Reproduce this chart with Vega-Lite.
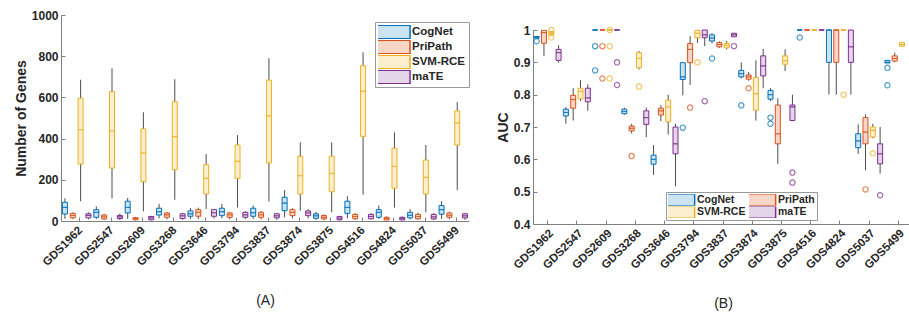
{
  "$schema": "https://vega.github.io/schema/vega-lite/v6.json",
  "background": "white",
  "padding": {"left": 14, "top": 9, "right": 0, "bottom": 0},
  "config": {
    "view": {"stroke": null},
    "font": "Liberation Sans",
    "axis": {
      "labelFont": "Liberation Sans", "labelFontWeight": "bold", "labelColor": "#262626",
      "titleFont": "Liberation Sans", "titleColor": "#262626",
      "domainColor": "#808080", "tickColor": "#808080", "grid": false,
      "tickSize": -4, "labelPadding": 7, "labelOverlap": false, "labelSeparation": 0
    },
    "legend": {
      "labelFont": "Liberation Sans", "labelFontWeight": "bold", "labelColor": "#262626",
      "labelFontSize": 10.5, "symbolStrokeWidth": 1.5, "strokeColor": "#9a9a9a", "fillColor": "white"
    }
  },
  "datasets": {
    "A": [
      {"ds": "GDS1962", "m": "CogNet", "lo": 10, "q1": 34, "med": 66, "q3": 91, "hi": 110},
      {"ds": "GDS1962", "m": "PriPath", "lo": 10, "q1": 15, "med": 27, "q3": 37, "hi": 42},
      {"ds": "GDS1962", "m": "SVM-RCE", "lo": 96, "q1": 277, "med": 443, "q3": 596, "hi": 686},
      {"ds": "GDS1962", "m": "maTE", "lo": 8, "q1": 15, "med": 27, "q3": 35, "hi": 42},
      {"ds": "GDS2547", "m": "CogNet", "lo": 10, "q1": 18, "med": 42, "q3": 55, "hi": 71},
      {"ds": "GDS2547", "m": "PriPath", "lo": 5, "q1": 10, "med": 20, "q3": 29, "hi": 35},
      {"ds": "GDS2547", "m": "SVM-RCE", "lo": 110, "q1": 257, "med": 438, "q3": 628, "hi": 741},
      {"ds": "GDS2547", "m": "maTE", "lo": 5, "q1": 12, "med": 20, "q3": 27, "hi": 36},
      {"ds": "GDS2609", "m": "CogNet", "lo": 10, "q1": 39, "med": 66, "q3": 96, "hi": 112},
      {"ds": "GDS2609", "m": "PriPath", "lo": 3, "q1": 6, "med": 12, "q3": 16, "hi": 20},
      {"ds": "GDS2609", "m": "SVM-RCE", "lo": 47, "q1": 191, "med": 330, "q3": 447, "hi": 528},
      {"ds": "GDS2609", "m": "maTE", "lo": 3, "q1": 6, "med": 15, "q3": 22, "hi": 25},
      {"ds": "GDS3268", "m": "CogNet", "lo": 13, "q1": 29, "med": 45, "q3": 62, "hi": 83},
      {"ds": "GDS3268", "m": "PriPath", "lo": 8, "q1": 18, "med": 30, "q3": 39, "hi": 44},
      {"ds": "GDS3268", "m": "SVM-RCE", "lo": 103, "q1": 249, "med": 409, "q3": 579, "hi": 688},
      {"ds": "GDS3268", "m": "maTE", "lo": 6, "q1": 12, "med": 25, "q3": 35, "hi": 40},
      {"ds": "GDS3646", "m": "CogNet", "lo": 10, "q1": 23, "med": 35, "q3": 49, "hi": 63},
      {"ds": "GDS3646", "m": "PriPath", "lo": 10, "q1": 23, "med": 42, "q3": 55, "hi": 65},
      {"ds": "GDS3646", "m": "SVM-RCE", "lo": 58, "q1": 131, "med": 207, "q3": 273, "hi": 325},
      {"ds": "GDS3646", "m": "maTE", "lo": 12, "q1": 23, "med": 40, "q3": 55, "hi": 58},
      {"ds": "GDS3794", "m": "CogNet", "lo": 13, "q1": 26, "med": 45, "q3": 62, "hi": 83},
      {"ds": "GDS3794", "m": "PriPath", "lo": 8, "q1": 18, "med": 30, "q3": 39, "hi": 45},
      {"ds": "GDS3794", "m": "SVM-RCE", "lo": 66, "q1": 207, "med": 290, "q3": 369, "hi": 417},
      {"ds": "GDS3794", "m": "maTE", "lo": 10, "q1": 18, "med": 30, "q3": 42, "hi": 48},
      {"ds": "GDS3837", "m": "CogNet", "lo": 10, "q1": 23, "med": 40, "q3": 62, "hi": 75},
      {"ds": "GDS3837", "m": "PriPath", "lo": 8, "q1": 18, "med": 30, "q3": 42, "hi": 48},
      {"ds": "GDS3837", "m": "SVM-RCE", "lo": 94, "q1": 282, "med": 511, "q3": 684, "hi": 790},
      {"ds": "GDS3837", "m": "maTE", "lo": 6, "q1": 15, "med": 25, "q3": 35, "hi": 40},
      {"ds": "GDS3874", "m": "CogNet", "lo": 18, "q1": 50, "med": 87, "q3": 115, "hi": 150},
      {"ds": "GDS3874", "m": "PriPath", "lo": 13, "q1": 26, "med": 42, "q3": 55, "hi": 62},
      {"ds": "GDS3874", "m": "SVM-RCE", "lo": 50, "q1": 131, "med": 220, "q3": 314, "hi": 382},
      {"ds": "GDS3874", "m": "maTE", "lo": 13, "q1": 26, "med": 39, "q3": 49, "hi": 58},
      {"ds": "GDS3875", "m": "CogNet", "lo": 6, "q1": 13, "med": 25, "q3": 35, "hi": 45},
      {"ds": "GDS3875", "m": "PriPath", "lo": 5, "q1": 10, "med": 18, "q3": 27, "hi": 32},
      {"ds": "GDS3875", "m": "SVM-RCE", "lo": 42, "q1": 142, "med": 231, "q3": 314, "hi": 382},
      {"ds": "GDS3875", "m": "maTE", "lo": 3, "q1": 6, "med": 14, "q3": 22, "hi": 25},
      {"ds": "GDS4516", "m": "CogNet", "lo": 13, "q1": 37, "med": 66, "q3": 96, "hi": 120},
      {"ds": "GDS4516", "m": "PriPath", "lo": 6, "q1": 11, "med": 22, "q3": 32, "hi": 38},
      {"ds": "GDS4516", "m": "SVM-RCE", "lo": 128, "q1": 411, "med": 630, "q3": 754, "hi": 819},
      {"ds": "GDS4516", "m": "maTE", "lo": 6, "q1": 11, "med": 22, "q3": 32, "hi": 38},
      {"ds": "GDS4824", "m": "CogNet", "lo": 10, "q1": 18, "med": 42, "q3": 55, "hi": 75},
      {"ds": "GDS4824", "m": "PriPath", "lo": 3, "q1": 5, "med": 12, "q3": 18, "hi": 22},
      {"ds": "GDS4824", "m": "SVM-RCE", "lo": 65, "q1": 159, "med": 265, "q3": 353, "hi": 430},
      {"ds": "GDS4824", "m": "maTE", "lo": 3, "q1": 5, "med": 12, "q3": 18, "hi": 22},
      {"ds": "GDS5037", "m": "CogNet", "lo": 8, "q1": 15, "med": 28, "q3": 42, "hi": 58},
      {"ds": "GDS5037", "m": "PriPath", "lo": 6, "q1": 11, "med": 22, "q3": 32, "hi": 40},
      {"ds": "GDS5037", "m": "SVM-RCE", "lo": 42, "q1": 131, "med": 212, "q3": 296, "hi": 369},
      {"ds": "GDS5037", "m": "maTE", "lo": 5, "q1": 10, "med": 20, "q3": 32, "hi": 38},
      {"ds": "GDS5499", "m": "CogNet", "lo": 10, "q1": 33, "med": 55, "q3": 75, "hi": 96},
      {"ds": "GDS5499", "m": "PriPath", "lo": 8, "q1": 18, "med": 28, "q3": 39, "hi": 45},
      {"ds": "GDS5499", "m": "SVM-RCE", "lo": 150, "q1": 369, "med": 476, "q3": 534, "hi": 578},
      {"ds": "GDS5499", "m": "maTE", "lo": 6, "q1": 15, "med": 25, "q3": 35, "hi": 40}
    ],
    "B": [
      {"ds": "GDS1962", "m": "CogNet", "lo": 0.975, "q1": 0.975, "med": 0.977, "q3": 0.98, "hi": 0.98},
      {"ds": "GDS1962", "m": "PriPath", "lo": 0.92, "q1": 0.959, "med": 0.992, "q3": 0.999, "hi": 1.0},
      {"ds": "GDS1962", "m": "SVM-RCE", "lo": 0.982, "q1": 0.984, "med": 0.99, "q3": 0.995, "hi": 0.997},
      {"ds": "GDS1962", "m": "maTE", "lo": 0.899, "q1": 0.906, "med": 0.93, "q3": 0.94, "hi": 0.953},
      {"ds": "GDS2547", "m": "CogNet", "lo": 0.71, "q1": 0.734, "med": 0.745, "q3": 0.755, "hi": 0.762},
      {"ds": "GDS2547", "m": "PriPath", "lo": 0.72, "q1": 0.758, "med": 0.785, "q3": 0.798, "hi": 0.82},
      {"ds": "GDS2547", "m": "SVM-RCE", "lo": 0.78, "q1": 0.787, "med": 0.81, "q3": 0.82, "hi": 0.845},
      {"ds": "GDS2547", "m": "maTE", "lo": 0.75, "q1": 0.778, "med": 0.79, "q3": 0.82, "hi": 0.832},
      {"ds": "GDS2609", "m": "CogNet", "lo": 1, "q1": 1, "med": 1, "q3": 1, "hi": 1},
      {"ds": "GDS2609", "m": "PriPath", "lo": 1, "q1": 1, "med": 1, "q3": 1, "hi": 1},
      {"ds": "GDS2609", "m": "SVM-RCE", "lo": 1, "q1": 1, "med": 1, "q3": 1, "hi": 1},
      {"ds": "GDS2609", "m": "maTE", "lo": 1, "q1": 1, "med": 1, "q3": 1, "hi": 1},
      {"ds": "GDS3268", "m": "CogNet", "lo": 0.738, "q1": 0.741, "med": 0.748, "q3": 0.755, "hi": 0.76},
      {"ds": "GDS3268", "m": "PriPath", "lo": 0.68, "q1": 0.688, "med": 0.696, "q3": 0.703, "hi": 0.71},
      {"ds": "GDS3268", "m": "SVM-RCE", "lo": 0.878, "q1": 0.883, "med": 0.912, "q3": 0.93, "hi": 0.935},
      {"ds": "GDS3268", "m": "maTE", "lo": 0.669, "q1": 0.708, "med": 0.729, "q3": 0.75, "hi": 0.76},
      {"ds": "GDS3646", "m": "CogNet", "lo": 0.552, "q1": 0.585, "med": 0.6, "q3": 0.613, "hi": 0.644},
      {"ds": "GDS3646", "m": "PriPath", "lo": 0.718, "q1": 0.737, "med": 0.75, "q3": 0.758, "hi": 0.768},
      {"ds": "GDS3646", "m": "SVM-RCE", "lo": 0.677, "q1": 0.716, "med": 0.762, "q3": 0.783, "hi": 0.8},
      {"ds": "GDS3646", "m": "maTE", "lo": 0.517, "q1": 0.617, "med": 0.648, "q3": 0.7, "hi": 0.71},
      {"ds": "GDS3794", "m": "CogNet", "lo": 0.798, "q1": 0.847, "med": 0.855, "q3": 0.899, "hi": 0.9},
      {"ds": "GDS3794", "m": "PriPath", "lo": 0.83, "q1": 0.899, "med": 0.94, "q3": 0.958, "hi": 0.981},
      {"ds": "GDS3794", "m": "SVM-RCE", "lo": 0.96, "q1": 0.976, "med": 0.99, "q3": 0.999, "hi": 1.0},
      {"ds": "GDS3794", "m": "maTE", "lo": 0.95, "q1": 0.976, "med": 0.985, "q3": 1.0, "hi": 1.0},
      {"ds": "GDS3837", "m": "CogNet", "lo": 0.958, "q1": 0.966, "med": 0.975, "q3": 0.985, "hi": 0.99},
      {"ds": "GDS3837", "m": "PriPath", "lo": 0.945, "q1": 0.948, "med": 0.955, "q3": 0.961, "hi": 0.965},
      {"ds": "GDS3837", "m": "SVM-RCE", "lo": 0.94, "q1": 0.945, "med": 0.953, "q3": 0.959, "hi": 0.966},
      {"ds": "GDS3837", "m": "maTE", "lo": 0.979, "q1": 0.979, "med": 0.985, "q3": 0.99, "hi": 0.99},
      {"ds": "GDS3874", "m": "CogNet", "lo": 0.85, "q1": 0.855, "med": 0.865, "q3": 0.875, "hi": 0.9},
      {"ds": "GDS3874", "m": "PriPath", "lo": 0.843, "q1": 0.848, "med": 0.855, "q3": 0.861, "hi": 0.87},
      {"ds": "GDS3874", "m": "SVM-RCE", "lo": 0.72, "q1": 0.752, "med": 0.803, "q3": 0.853, "hi": 0.906},
      {"ds": "GDS3874", "m": "maTE", "lo": 0.82, "q1": 0.858, "med": 0.889, "q3": 0.92, "hi": 0.942},
      {"ds": "GDS3875", "m": "CogNet", "lo": 0.78, "q1": 0.786, "med": 0.8, "q3": 0.813, "hi": 0.82},
      {"ds": "GDS3875", "m": "PriPath", "lo": 0.586, "q1": 0.648, "med": 0.679, "q3": 0.768, "hi": 0.789},
      {"ds": "GDS3875", "m": "SVM-RCE", "lo": 0.873, "q1": 0.894, "med": 0.905, "q3": 0.92, "hi": 0.94},
      {"ds": "GDS3875", "m": "maTE", "lo": 0.72, "q1": 0.72, "med": 0.762, "q3": 0.768, "hi": 0.8},
      {"ds": "GDS4516", "m": "CogNet", "lo": 1, "q1": 1, "med": 1, "q3": 1, "hi": 1},
      {"ds": "GDS4516", "m": "PriPath", "lo": 1, "q1": 1, "med": 1, "q3": 1, "hi": 1},
      {"ds": "GDS4516", "m": "SVM-RCE", "lo": 1, "q1": 1, "med": 1, "q3": 1, "hi": 1},
      {"ds": "GDS4516", "m": "maTE", "lo": 1, "q1": 1, "med": 1, "q3": 1, "hi": 1},
      {"ds": "GDS4824", "m": "CogNet", "lo": 0.8, "q1": 0.9, "med": 1, "q3": 1, "hi": 1},
      {"ds": "GDS4824", "m": "PriPath", "lo": 0.8, "q1": 0.9, "med": 1, "q3": 1, "hi": 1},
      {"ds": "GDS4824", "m": "SVM-RCE", "lo": 1, "q1": 1, "med": 1, "q3": 1, "hi": 1},
      {"ds": "GDS4824", "m": "maTE", "lo": 0.8, "q1": 0.9, "med": 0.948, "q3": 1, "hi": 1},
      {"ds": "GDS5037", "m": "CogNet", "lo": 0.617, "q1": 0.636, "med": 0.657, "q3": 0.679, "hi": 0.708},
      {"ds": "GDS5037", "m": "PriPath", "lo": 0.566, "q1": 0.648, "med": 0.684, "q3": 0.729, "hi": 0.739},
      {"ds": "GDS5037", "m": "SVM-RCE", "lo": 0.665, "q1": 0.669, "med": 0.69, "q3": 0.7, "hi": 0.71},
      {"ds": "GDS5037", "m": "maTE", "lo": 0.556, "q1": 0.586, "med": 0.617, "q3": 0.648, "hi": 0.7},
      {"ds": "GDS5499", "m": "CogNet", "lo": 0.898, "q1": 0.898, "med": 0.9, "q3": 0.906, "hi": 0.906},
      {"ds": "GDS5499", "m": "PriPath", "lo": 0.9, "q1": 0.904, "med": 0.912, "q3": 0.92, "hi": 0.93},
      {"ds": "GDS5499", "m": "SVM-RCE", "lo": 0.95, "q1": 0.95, "med": 0.955, "q3": 0.961, "hi": 0.961}
    ],
    "Bout": [
      {"ds": "GDS1962", "m": "CogNet", "v": 0.965},
      {"ds": "GDS1962", "m": "SVM-RCE", "v": 1.0},
      {"ds": "GDS1962", "m": "SVM-RCE", "v": 0.977},
      {"ds": "GDS2609", "m": "CogNet", "v": 0.95},
      {"ds": "GDS2609", "m": "CogNet", "v": 0.875},
      {"ds": "GDS2609", "m": "PriPath", "v": 0.95},
      {"ds": "GDS2609", "m": "PriPath", "v": 0.85},
      {"ds": "GDS2609", "m": "SVM-RCE", "v": 1.0},
      {"ds": "GDS2609", "m": "SVM-RCE", "v": 0.95},
      {"ds": "GDS2609", "m": "SVM-RCE", "v": 0.85},
      {"ds": "GDS2609", "m": "maTE", "v": 0.9},
      {"ds": "GDS2609", "m": "maTE", "v": 0.83},
      {"ds": "GDS3268", "m": "PriPath", "v": 0.61},
      {"ds": "GDS3268", "m": "SVM-RCE", "v": 0.825},
      {"ds": "GDS3794", "m": "CogNet", "v": 0.698},
      {"ds": "GDS3794", "m": "PriPath", "v": 0.76},
      {"ds": "GDS3794", "m": "SVM-RCE", "v": 0.9},
      {"ds": "GDS3794", "m": "maTE", "v": 0.78},
      {"ds": "GDS3837", "m": "CogNet", "v": 0.912},
      {"ds": "GDS3837", "m": "maTE", "v": 0.95},
      {"ds": "GDS3874", "m": "CogNet", "v": 0.767},
      {"ds": "GDS3874", "m": "PriPath", "v": 0.82},
      {"ds": "GDS3875", "m": "CogNet", "v": 0.729},
      {"ds": "GDS3875", "m": "CogNet", "v": 0.71},
      {"ds": "GDS3875", "m": "maTE", "v": 0.559},
      {"ds": "GDS3875", "m": "maTE", "v": 0.528},
      {"ds": "GDS4516", "m": "CogNet", "v": 0.977},
      {"ds": "GDS4824", "m": "SVM-RCE", "v": 0.8},
      {"ds": "GDS5037", "m": "PriPath", "v": 0.507},
      {"ds": "GDS5037", "m": "SVM-RCE", "v": 0.619},
      {"ds": "GDS5037", "m": "maTE", "v": 0.489},
      {"ds": "GDS5499", "m": "CogNet", "v": 0.883},
      {"ds": "GDS5499", "m": "CogNet", "v": 0.829}
    ]
  },
  "hconcat": [
    {
      "width": 408,
      "height": 206,
      "data": {"name": "A"},
      "encoding": {
        "x": {
          "field": "ds", "type": "nominal", "sort": null,
          "scale": {"paddingInner": 0, "paddingOuter": 0},
          "axis": {"bandPosition": 0.6, "labelAngle": -45, "labelFontSize": 11.5, "title": "(A)", "titleFontSize": 14, "titleFontWeight": "normal", "titlePadding": 26}
        },
        "xOffset": {"field": "m", "type": "nominal", "scale": {"domain": ["CogNet", "PriPath", "SVM-RCE", "maTE"]}}
      },
      "layer": [
        {
          "mark": {"type": "rule", "color": "#4d4d4d", "strokeWidth": 1},
          "encoding": {
            "y": {"field": "lo", "type": "quantitative", "title": "Number of Genes",
              "scale": {"domain": [0, 1000], "nice": false},
              "axis": {"values": [0, 200, 400, 600, 800, 1000], "format": "d", "labelOverlap": false, "labelFontSize": 12, "titleFontSize": 14, "titleFontWeight": "bold", "titlePadding": 3}},
            "y2": {"field": "hi"}
          }
        },
        {
          "mark": {"type": "bar", "size": 5, "strokeWidth": 1},
          "encoding": {
            "y": {"field": "q1", "type": "quantitative", "title": "Number of Genes"},
            "y2": {"field": "q3"},
            "fill": {"field": "m", "type": "nominal",
              "scale": {"domain": ["CogNet", "PriPath", "SVM-RCE", "maTE"], "range": ["#CCE3F2", "#F7D6C8", "#FBEFCF", "#E5D5E8"]},
              "legend": {"title": null, "orient": "none", "legendX": 314, "legendY": 7, "labelFontSize": 11.5, "symbolType": "M-1.3,-0.5H1.3V0.5H-1.3Z", "symbolSize": 729, "clipHeight": 14, "rowPadding": 1, "padding": 3, "labelOffset": 5}},
            "stroke": {"field": "m", "type": "nominal",
              "scale": {"domain": ["CogNet", "PriPath", "SVM-RCE", "maTE"], "range": ["#0072BD", "#D95319", "#EDB120", "#7E2F8E"]},
              "legend": {"title": null, "orient": "none", "legendX": 314, "legendY": 7, "labelFontSize": 11.5, "symbolType": "M-1.3,-0.5H1.3V0.5H-1.3Z", "symbolSize": 729, "clipHeight": 14, "rowPadding": 1, "padding": 3, "labelOffset": 5}}
          }
        },
        {
          "mark": {"type": "tick", "size": 5, "thickness": 0.1, "filled": false, "strokeWidth": 1},
          "encoding": {
            "y": {"field": "med", "type": "quantitative", "title": "Number of Genes"},
            "stroke": {"field": "m", "type": "nominal", "legend": null}
          }
        }
      ]
    },
    {
      "spacing": 5,
      "resolve": {
        "scale": {"fill": "independent", "stroke": "independent"},
        "legend": {"fill": "independent", "stroke": "independent"}
      },
      "vconcat": [
        {
          "width": 1,
          "height": 1,
          "data": {"values": [{}]},
          "mark": {"type": "point", "opacity": 0},
          "encoding": {}
        },
        {
          "width": 380,
          "height": 194,
          "data": {"name": "B"},
          "encoding": {
            "x": {
              "field": "ds", "type": "nominal", "sort": null,
              "scale": {"paddingInner": 0, "paddingOuter": 0},
              "axis": {"labelAngle": -45, "labelFontSize": 11.5, "title": "(B)", "titleFontSize": 14, "titleFontWeight": "normal", "titlePadding": 26}
            },
            "xOffset": {"field": "m", "type": "nominal", "scale": {"domain": ["CogNet", "PriPath", "SVM-RCE", "maTE"]}}
          },
          "layer": [
            {
              "mark": {"type": "rule", "color": "#4d4d4d", "strokeWidth": 1},
              "encoding": {
                "y": {"field": "lo", "type": "quantitative", "title": "AUC",
                  "scale": {"domain": [0.4, 1], "nice": false, "zero": false},
                  "axis": {"values": [0.4, 0.5, 0.6, 0.7, 0.8, 0.9, 1], "tickCount": 7, "format": "~g", "labelOverlap": false, "labelSeparation": 0, "labelFontSize": 12, "titleFontSize": 14, "titleFontWeight": "bold", "titlePadding": 3}},
                "y2": {"field": "hi"}
              }
            },
            {
              "mark": {"type": "bar", "size": 5, "strokeWidth": 1},
              "encoding": {
                "y": {"field": "q1", "type": "quantitative", "title": "AUC", "axis": {"values": [0.4, 0.5, 0.6, 0.7, 0.8, 0.9, 1], "tickCount": 7, "format": "~g", "labelOverlap": false}},
                "y2": {"field": "q3"},
                "fill": {"field": "m", "type": "nominal",
                  "scale": {"domain": ["CogNet", "SVM-RCE", "PriPath", "maTE"], "range": ["#CCE3F2", "#FBEFCF", "#F7D6C8", "#E5D5E8"]},
                  "legend": {"title": null, "orient": "none", "legendX": 133, "legendY": 162, "columns": 2, "columnPadding": 3, "symbolType": "M-1.23,-0.53H1.23V0.53H-1.23Z", "symbolSize": 529, "clipHeight": 11.5, "rowPadding": 0.5, "padding": 2, "labelOffset": 4}},
                "stroke": {"field": "m", "type": "nominal",
                  "scale": {"domain": ["CogNet", "SVM-RCE", "PriPath", "maTE"], "range": ["#0072BD", "#EDB120", "#D95319", "#7E2F8E"]},
                  "legend": {"title": null, "orient": "none", "legendX": 133, "legendY": 162, "columns": 2, "columnPadding": 3, "symbolType": "M-1.23,-0.53H1.23V0.53H-1.23Z", "symbolSize": 529, "clipHeight": 11.5, "rowPadding": 0.5, "padding": 2, "labelOffset": 4}}
              }
            },
            {
              "mark": {"type": "tick", "size": 5, "thickness": 0.1, "filled": false, "strokeWidth": 1},
              "encoding": {
                "y": {"field": "med", "type": "quantitative", "title": "AUC", "axis": {"values": [0.4, 0.5, 0.6, 0.7, 0.8, 0.9, 1], "tickCount": 7, "format": "~g", "labelOverlap": false}},
                "stroke": {"field": "m", "type": "nominal", "legend": null}
              }
            },
            {
              "data": {"name": "Bout"},
              "mark": {"type": "point", "shape": "circle", "filled": false, "size": 28, "strokeWidth": 1.2},
              "encoding": {
                "y": {"field": "v", "type": "quantitative", "title": "AUC", "axis": {"values": [0.4, 0.5, 0.6, 0.7, 0.8, 0.9, 1], "tickCount": 7, "format": "~g", "labelOverlap": false}},
                "stroke": {"field": "m", "type": "nominal", "legend": null}
              }
            }
          ]
        }
      ]
    }
  ],
  "spacing": 26,
  "resolve": {
    "scale": {"x": "independent", "y": "independent", "xOffset": "independent", "fill": "independent", "stroke": "independent"},
    "legend": {"fill": "independent", "stroke": "independent"}
  }
}
